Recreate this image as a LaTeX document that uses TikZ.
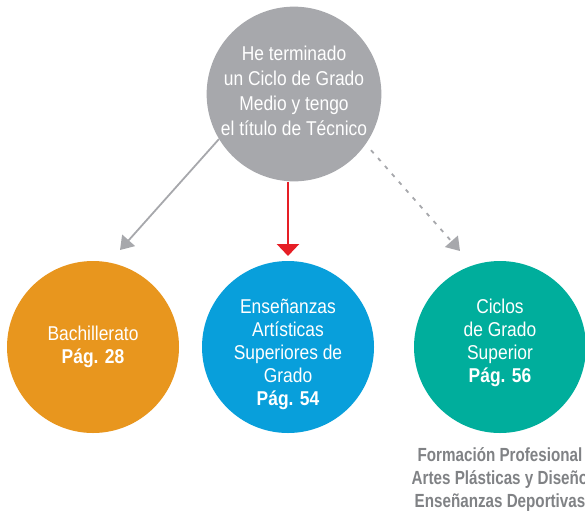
\documentclass[tikz,border=0pt]{standalone}
\usepackage{fontspec}
\setmainfont{Liberation Sans}[FakeStretch=0.87]
\newfontfamily\notefont{Liberation Sans}[FakeStretch=0.8]
\usetikzlibrary{arrows.meta}

\definecolor{tecgray}{RGB}{167,168,172}
\definecolor{bachorange}{RGB}{232,150,30}
\definecolor{artblue}{RGB}{8,159,219}
\definecolor{cgsgreen}{RGB}{0,174,156}
\definecolor{arrowred}{RGB}{230,30,37}
\definecolor{notegray}{RGB}{128,130,133}

\begin{document}
\begin{tikzpicture}[x=1pt,y=-1pt]
      \useasboundingbox (0,0) rectangle (585,511);

      \begin{scope}[every node/.style={circle,minimum size=172pt,inner sep=0pt,
          align=center,text=white,font=\fontsize{20}{23}\selectfont}]
        \node[fill=tecgray,font=\fontsize{20}{25}\selectfont] (tecnico) at (294,94)
          {He terminado\\un Ciclo de Grado\\Medio y tengo\\el título de Técnico\rule[-7pt]{0pt}{0pt}};
        \node[fill=bachorange] (bach)   at (93,347)  {Bachillerato\\\textbf{Pág. 28}};
        \node[fill=artblue]    (ensart) at (288,347) {\rule{0pt}{30pt}Enseñanzas\\Artísticas\\Superiores de\\Grado\\\textbf{Pág. 54}};
        \node[fill=cgsgreen]   (cgs)    at (500,347) {Ciclos\\de Grado\\Superior\\\textbf{Pág. 56}\rule[-13pt]{0pt}{0pt}};
      \end{scope}

      \coordinate (tipL) at (120,250);
      \coordinate (tipM) at (288,256);
      \coordinate (tipR) at (460,251);

      \begin{scope}[every edge/.style={draw,line width=1.8pt,tecgray,
          -{Triangle[length=13pt,width=17pt]}}]
        \path (tecnico.211) edge (tipL);
        \path (tecnico.south -| tipM) edge[arrowred,line width=2.6pt,
          -{Triangle[length=12pt,width=22pt]}] (tipM);
        \path (tecnico.325) edge[dash pattern=on 4pt off 6.5pt,shorten <=8pt] (tipR);
      \end{scope}

      \node[align=center,text=notegray,font=\notefont\bfseries\fontsize{19}{23}\selectfont]
        (ambitos) at (500,479) {Formación Profesional\\Artes Plásticas y Diseño\\Enseñanzas Deportivas};

    \end{tikzpicture}
\end{document}
